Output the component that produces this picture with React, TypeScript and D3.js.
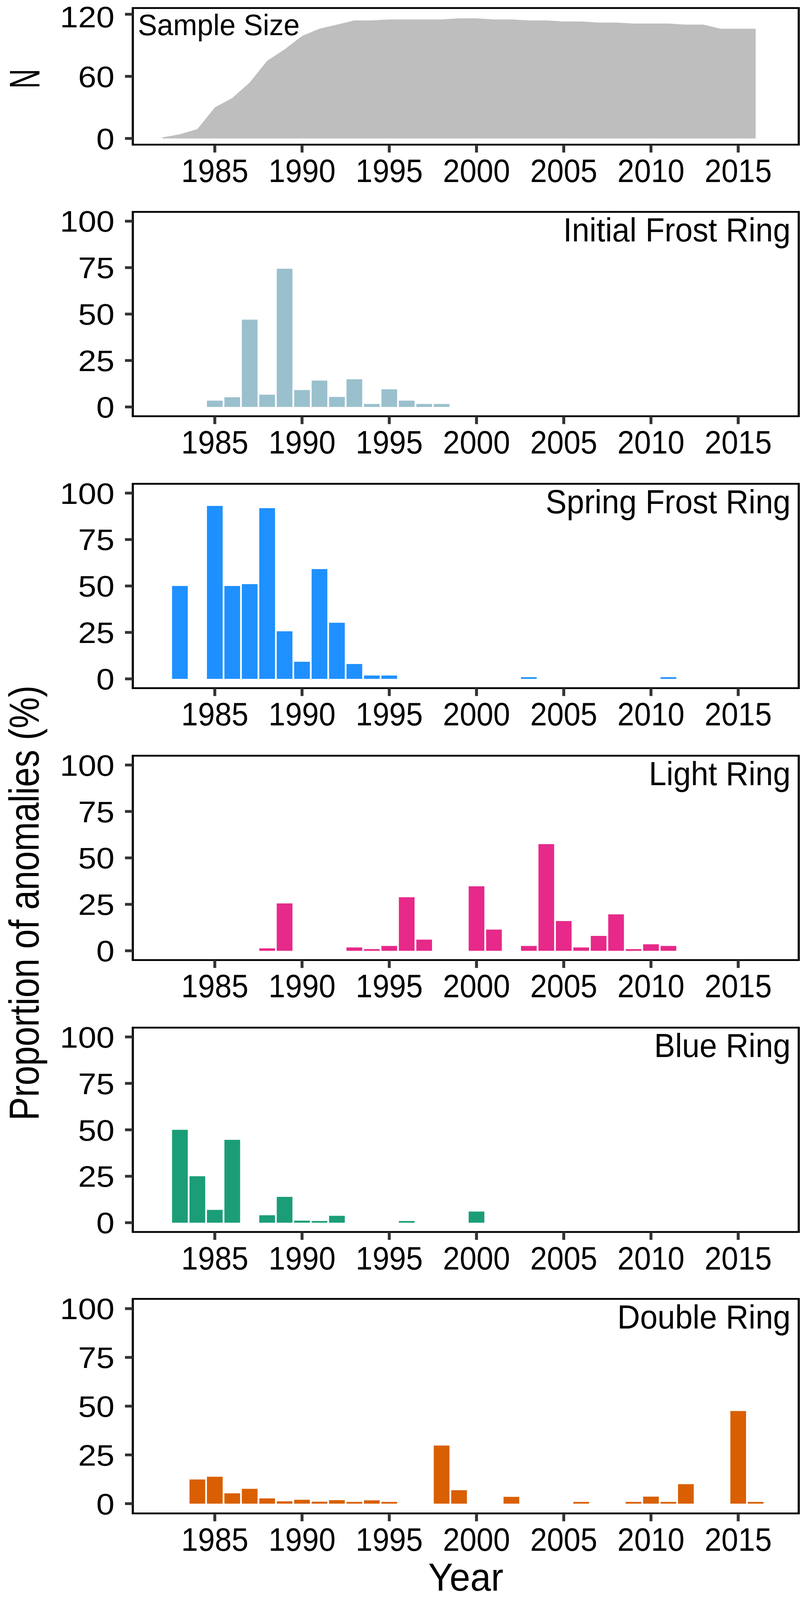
import React from "react";
import * as d3 from "d3";

// ---------- data ----------
const sampleYears = [1982, 1983, 1984, 1985, 1986, 1987, 1988, 1989, 1990, 1991, 1992, 1993, 1994, 1995, 1996, 1997, 1998, 1999, 2000, 2001, 2002, 2003, 2004, 2005, 2006, 2007, 2008, 2009, 2010, 2011, 2012, 2013, 2014, 2015, 2016];
const sampleN = [1, 4, 9, 30, 39, 54, 75, 86, 99, 106, 110, 114, 114, 115, 115, 115, 115, 116, 116, 115, 115, 114, 114, 113, 113, 112, 112, 111, 111, 111, 110, 110, 106, 106, 106];

const initialYears = [1985, 1986, 1987, 1988, 1989, 1990, 1991, 1992, 1993, 1994, 1995, 1996, 1997, 1998];
const initialVals = [3.4, 5.2, 47.0, 6.6, 74.4, 9.1, 14.2, 5.4, 14.9, 1.6, 9.5, 3.4, 1.6, 1.6];

const springYears = [1983, 1985, 1986, 1987, 1988, 1989, 1990, 1991, 1992, 1993, 1994, 1995, 2003, 2011];
const springVals = [50.0, 93.1, 50.0, 51.0, 91.9, 25.6, 9.2, 59.1, 30.2, 8.0, 1.8, 1.8, 0.9, 0.9];

const lightYears = [1988, 1989, 1993, 1994, 1995, 1996, 1997, 2000, 2001, 2003, 2004, 2005, 2006, 2007, 2008, 2009, 2010, 2011];
const lightVals = [1.3, 25.5, 1.8, 0.9, 2.6, 28.8, 6.0, 34.7, 11.4, 2.6, 57.4, 16.0, 1.8, 8.0, 19.6, 0.9, 3.5, 2.6];

const blueYears = [1983, 1984, 1985, 1986, 1988, 1989, 1990, 1991, 1992, 1996, 2000];
const blueVals = [50.0, 25.0, 6.9, 44.6, 4.0, 13.9, 1.1, 0.9, 3.7, 0.9, 6.0];

const doubleYears = [1984, 1985, 1986, 1987, 1988, 1989, 1990, 1991, 1992, 1993, 1994, 1995, 1998, 1999, 2002, 2006, 2009, 2010, 2011, 2012, 2015, 2016];
const doubleVals = [12.4, 13.8, 5.3, 7.6, 2.7, 1.2, 2.0, 1.0, 1.8, 0.9, 1.7, 0.9, 29.8, 6.9, 3.5, 0.9, 0.9, 3.6, 0.9, 10.0, 47.5, 0.9];

const xTicks = [1985, 1990, 1995, 2000, 2005, 2010, 2015];
const nTicks = [0, 60, 120];
const pctTicks = [0, 25, 50, 75, 100];

const panelNames = ["Initial Frost Ring", "Spring Frost Ring", "Light Ring", "Blue Ring", "Double Ring"];
const panelColors = ["#9AC0CD", "#1E90FF", "#E7298A", "#1B9E77", "#D95F02"];
const panelYears = [initialYears, springYears, lightYears, blueYears, doubleYears];
const panelVals = [initialVals, springVals, lightVals, blueVals, doubleVals];

// ---------- layout ----------
const W = 2061;
const H = 4878;
const LEFT = 340;
const RIGHT = 2045;
const FONT = "'Liberation Sans', Arial, Helvetica, sans-serif";
const TICK = "#333333";

const panelTops = [646, 1475, 2304, 3133, 3960];
const panelBottoms = [1269, 2098, 2927, 3756, 4614];
const P1_TOP = 24.5;
const P1_BOTTOM = 441;

const x = d3.scaleLinear().domain([1980.3, 2018.47]).range([LEFT, RIGHT]);

function XAxis({ bottom }: { bottom: number }) {
  return (
    <g>
      {xTicks.map((t) => (
        <g key={t}>
          <line x1={x(t)} x2={x(t)} y1={bottom} y2={bottom + 24} stroke={TICK} strokeWidth={7.5} />
          <text
            transform={`translate(${x(t)},${bottom + 114}) scale(0.78,1)`}
            textAnchor="middle"
            fontSize={99}
            fontFamily={FONT}
            fill="#000"
          >
            {t}
          </text>
        </g>
      ))}
    </g>
  );
}

function YAxis({ y, ticks, topShift = 0 }: { y: d3.ScaleLinear<number, number>; ticks: number[]; topShift?: number }) {
  const maxT = Math.max(...ticks);
  return (
    <g>
      {ticks.map((t) => (
        <g key={t}>
          <line x1={LEFT - 20} x2={LEFT} y1={y(t)} y2={y(t)} stroke={TICK} strokeWidth={8.5} />
          <text
            transform={`translate(293,${y(t) + 32.4 + (t === maxT ? topShift : 0)}) scale(0.93,1)`}
            textAnchor="end"
            fontSize={90}
            fontFamily={FONT}
            fill="#000"
          >
            {t}
          </text>
        </g>
      ))}
    </g>
  );
}

function SamplePanel() {
  const y = d3.scaleLinear().domain([-6, 126]).range([P1_BOTTOM, P1_TOP]);
  const pts = sampleYears.map((yr, i) => [yr, sampleN[i]] as [number, number]);
  const area = d3
    .area<[number, number]>()
    .x((d) => x(d[0]))
    .y0(() => y(0))
    .y1((d) => y(d[1]));
  return (
    <g>
      <path d={area(pts) || ""} fill="#BEBEBE" />
      <text
        transform={`translate(353,107) scale(0.82,1)`}
        textAnchor="start"
        fontSize={90}
        fontFamily={FONT}
        fill="#000"
      >
        Sample Size
      </text>
      <rect
        x={LEFT}
        y={P1_TOP}
        width={RIGHT - LEFT}
        height={P1_BOTTOM - P1_TOP}
        fill="none"
        stroke="#000"
        strokeWidth={5.5}
      />
      <YAxis y={y} ticks={nTicks} topShift={7} />
      <XAxis bottom={P1_BOTTOM} />
    </g>
  );
}

function BarPanel({ idx }: { idx: number }) {
  const top = panelTops[idx];
  const bottom = panelBottoms[idx];
  const y = d3.scaleLinear().domain([-5, 105]).range([bottom, top]);
  const yrs = panelYears[idx];
  const vals = panelVals[idx];
  return (
    <g>
      {yrs.map((yr, i) => (
        <rect
          key={yr}
          x={x(yr - 0.45)}
          width={x(yr + 0.45) - x(yr - 0.45)}
          y={y(vals[i])}
          height={y(0) - y(vals[i])}
          fill={panelColors[idx]}
        />
      ))}
      <text
        transform={`translate(2024,${top + 90}) scale(0.79,1)`}
        textAnchor="end"
        fontSize={102}
        fontFamily={FONT}
        fill="#000"
      >
        {panelNames[idx]}
      </text>
      <rect
        x={LEFT}
        y={top}
        width={RIGHT - LEFT}
        height={bottom - top}
        fill="none"
        stroke="#000"
        strokeWidth={5.5}
      />
      <YAxis y={y} ticks={pctTicks} />
      <XAxis bottom={bottom} />
    </g>
  );
}

export default function App() {
  return (
    <svg
      viewBox={`0 0 ${W} ${H}`}
      preserveAspectRatio="none"
      style={{ position: "fixed", left: 0, top: 0, width: "100vw", height: "100vh", display: "block", background: "#fff" }}
    >
      <rect x={0} y={0} width={W} height={H} fill="#fff" />
      <SamplePanel />
      {panelNames.map((_, i) => (
        <BarPanel key={i} idx={i} />
      ))}
      <text
        transform="translate(101,240) rotate(-90) scale(0.755,1)"
        textAnchor="middle"
        fontSize={110}
        fontFamily={FONT}
        fill="#000"
      >
        N
      </text>
      <text
        transform="translate(99,2753) rotate(-90)"
        textAnchor="middle"
        fontSize={107}
        fontFamily={FONT}
        fill="#000"
      >
        Proportion of anomalies (%)
      </text>
      <text
        transform="translate(1192.5,4850) scale(0.8,1)"
        textAnchor="middle"
        fontSize={119}
        fontFamily={FONT}
        fill="#000"
      >
        Year
      </text>
    </svg>
  );
}
